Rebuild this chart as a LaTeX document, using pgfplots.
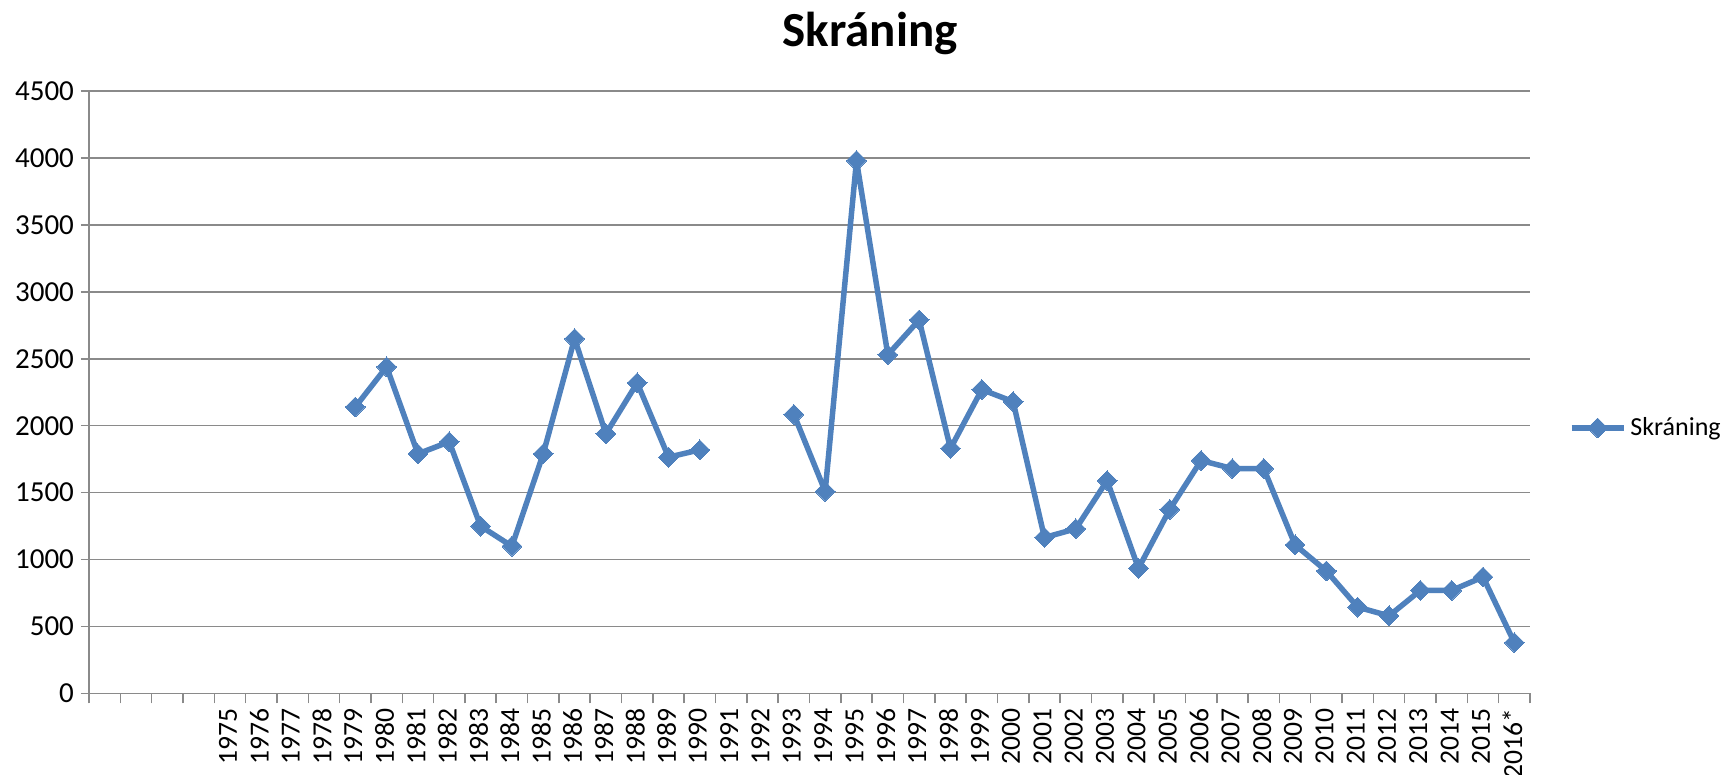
\documentclass[border=0pt]{standalone}
\usepackage{pgfplots}
\pgfplotsset{compat=1.18}
\usepackage{fontspec}
\setmainfont{Carlito}
\definecolor{ser}{HTML}{4F81BD}
\definecolor{grd}{HTML}{8A8A8A}
\begin{document}
\begin{tikzpicture}
\begin{axis}[
  scale only axis, width=720.5pt, height=301.25pt,
  at={(0,0)}, anchor=south west,
  xmin=-0.5, xmax=45.5, ymin=0, ymax=4500,
  ytick={0,500,...,4500},
  xtick={4,...,45},
  xticklabels={1975,1976,1977,1978,1979,1980,1981,1982,1983,1984,1985,1986,1987,1988,1989,1990,1991,1992,1993,1994,1995,1996,1997,1998,1999,2000,2001,2002,2003,2004,2005,2006,2007,2008,2009,2010,2011,2012,2013,2014,2015,2016*},
  minor xtick={-0.5,0.5,...,45.5},
  tick align=outside,
  major tick length=4pt, minor tick length=5pt,
  major x tick style={draw=none},
  tick style={grd, line width=0.75pt},
  axis x line*=bottom, axis y line*=left,
  axis line style={grd, line width=0.75pt},
  ymajorgrids, grid style={grd, line width=0.75pt},
  /pgf/number format/assume math mode=true,
  /pgf/number format/1000 sep={},
  yticklabel style={font=\fontsize{14.5pt}{17pt}\selectfont, black},
  xticklabel style={font=\fontsize{13.8pt}{16pt}\selectfont, black, rotate=90, anchor=east, yshift=1pt},
  unbounded coords=jump,
  legend style={at={(1.027,0.4407)}, anchor=west, draw=none, fill=none,
    inner sep=0pt, outer sep=0pt, font=\fontsize{13pt}{15pt}\selectfont,
    /tikz/every even column/.append style={column sep=0pt}},
  legend image code/.code={\draw[mark repeat=2,mark phase=2] plot coordinates {(0pt,0pt) (13pt,0pt) (26pt,0pt)};},
]
\addplot[ser, line width=2.75pt, line join=round, mark=square*, mark size=3.5pt, mark options={fill=ser, line width=0pt, rotate=45}]
coordinates {
(8,2140) (9,2440) (10,1790) (11,1880) (12,1250) (13,1100) (14,1790) (15,2650)
(16,1940) (17,2320) (18,1765) (19,1820) (20,nan) (21,nan) (22,2085) (23,1510)
(24,3980) (25,2530) (26,2790) (27,1830) (28,2270) (29,2180) (30,1165) (31,1230)
(32,1590) (33,935) (34,1375) (35,1740) (36,1680) (37,1680) (38,1110) (39,915)
(40,645) (41,580) (42,770) (43,770) (44,870) (45,380)
};
\addlegendentry{Skráning}
\end{axis}
\node[font=\fontsize{24.5pt}{29pt}\selectfont\bfseries] at (390.5pt,330pt) {Skráning};
\pgfresetboundingbox
\useasboundingbox (-44.5pt,-40.75pt) rectangle (817pt,346.75pt);
\end{tikzpicture}
\end{document}
